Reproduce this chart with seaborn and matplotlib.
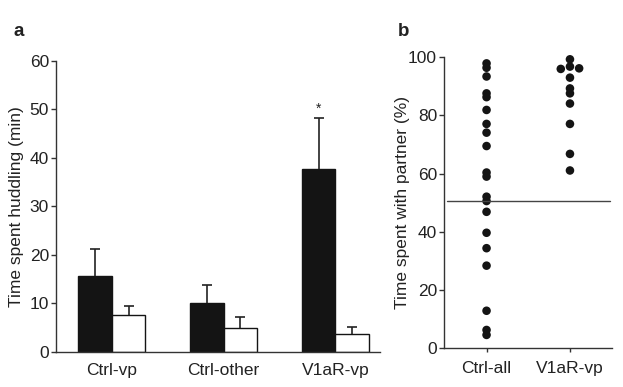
import numpy as np
import pandas as pd
from matplotlib import pyplot as plt
import seaborn as sns

# panel a: huddling time (min), mean and upper error
groups = ["Ctrl-vp", "Ctrl-other", "V1aR-vp"]
partner_mean = [15.6, 10.0, 37.7]
partner_err = [5.7, 3.8, 10.6]
other_mean = [7.5, 4.8, 3.7]
other_err = [1.9, 2.4, 1.3]

# panel b: time spent with partner (%)
ctrl_all = [97.9, 96.4, 93.4, 87.6, 86.3, 81.9, 77.1, 74.1, 69.5, 60.4,
            59.0, 52.1, 50.6, 46.9, 39.7, 34.4, 28.4, 12.9, 6.3, 4.6]
v1ar_vp = [99.3, 96.8, 96.0, 96.2, 93.0, 89.3, 87.6, 84.1, 77.1, 66.8, 61.1]
v1ar_side = [0, 0, -1, 1, 0, 0, 0, 0, 0, 0, 0]  # the three dots that sit side by side
chance_level = 50.6
b_labels = ["Ctrl-all", "V1aR-vp"]

sns.set_style("ticks")
plt.rcParams['font.family'] = ['Liberation Sans', 'DejaVu Sans']
plt.rcParams['font.size'] = 12.5
plt.rcParams['text.color'] = '#222222'
plt.rcParams['axes.labelcolor'] = '#222222'
plt.rcParams['xtick.color'] = '#333333'
plt.rcParams['ytick.color'] = '#333333'
plt.rcParams['xtick.labelcolor'] = '#222222'
plt.rcParams['ytick.labelcolor'] = '#222222'
plt.rcParams['axes.edgecolor'] = '#333333'

fig = plt.figure(figsize=(6.23, 3.87), dpi=100)
ax_a = fig.add_axes([0.0899, 0.0912, 0.5201, 0.7512])
ax_b = fig.add_axes([0.7127, 0.1000, 0.2691, 0.7520])

# ---- panel a ----
df = pd.DataFrame({
    "group": groups * 2,
    "value": partner_mean + other_mean,
    "kind": ["partner"] * 3 + ["other"] * 3,
})
sns.barplot(data=df, x="group", y="value", hue="kind", palette=["#141414", "white"],
            edgecolor="#141414", linewidth=1.0, width=0.6, gap=0, legend=False, ax=ax_a)

bars = [p for p in ax_a.patches if p.get_height() > 0]
bars = sorted(bars, key=lambda p: p.get_x())
errs = []
for g in range(3):
    errs += [partner_err[g], other_err[g]]
for p, e in zip(bars, errs):
    xc = p.get_x() + p.get_width() / 2
    _, caps, _ = ax_a.errorbar(xc, p.get_height(), yerr=[[0], [e]], fmt="none",
                               ecolor="#222222", elinewidth=1.2, capsize=3.3, capthick=1.2)
    caps[0].set_visible(False)  # upper whisker only

v1_bar = bars[4]
ax_a.text(v1_bar.get_x() + v1_bar.get_width() / 2, 50.2, "*", ha="center", va="center",
          fontsize=10)

ax_a.set_xlim(-0.5, 2.4)
ax_a.set_ylim(0, 60)
ax_a.set_yticks(range(0, 61, 10))
ax_a.set_xlabel("")
ax_a.set_ylabel("Time spent huddling (min)", labelpad=4)
ax_a.tick_params(axis="x", length=0, pad=8)
ax_a.tick_params(axis="y", length=3.5, width=1, pad=1.5)
sns.despine(ax=ax_a)
ax_a.spines["left"].set_linewidth(1)
ax_a.spines["bottom"].set_linewidth(1)

# ---- panel b ----
pts = pd.DataFrame({
    "x": [0.0] * len(ctrl_all) + [1 + 0.11 * s for s in v1ar_side],
    "y": ctrl_all + v1ar_vp,
})
sns.scatterplot(data=pts, x="x", y="y", color="#141414", s=38, edgecolor="none",
                clip_on=False, ax=ax_b)
ax_b.axhline(chance_level, xmin=0.02, xmax=0.99, color="#444444", lw=1)

ax_b.set_xlim(-0.51, 1.5)
ax_b.set_ylim(0, 100)
ax_b.set_xticks([0, 1])
ax_b.set_xticklabels(b_labels)
ax_b.set_yticks(range(0, 101, 20))
ax_b.set_xlabel("")
ax_b.set_ylabel("Time spent with partner (%)", labelpad=-1.5)
ax_b.tick_params(axis="x", length=3, width=1, pad=6)
ax_b.tick_params(axis="y", length=3.5, width=1, pad=1.5)
sns.despine(ax=ax_b)
ax_b.spines["left"].set_linewidth(1)
ax_b.spines["bottom"].set_linewidth(1)

fig.text(14 / 623, 1 - 32 / 387, "a", fontsize=13.5, fontweight="bold", va="center")
fig.text(398 / 623, 1 - 32 / 387, "b", fontsize=13.5, fontweight="bold", va="center")

plt.savefig("out.png", dpi=100)
